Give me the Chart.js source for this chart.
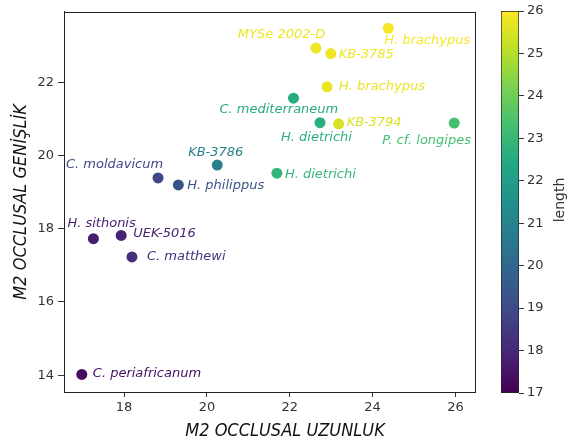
<!DOCTYPE html>
<html>
<head>
<meta charset="utf-8">
<script src="https://cdn.jsdelivr.net/npm/chart.js@4/dist/chart.umd.min.js"></script>
<style>
html,body{margin:0;padding:0;background:#fff;width:571px;height:443px;overflow:hidden;}
#main{position:absolute;left:0;top:0;}
#cbar{position:absolute;left:480px;top:0;}
</style>
</head>
<body>
<canvas id="main" width="480" height="443"></canvas>
<canvas id="cbar" width="91" height="443"></canvas>
<script>
// ---- data ----
const names = ["H. brachypus","MYSe 2002-D","KB-3785","H. brachypus","C. mediterraneum","H. dietrichi","KB-3794","P. cf. longipes","KB-3786","C. moldavicum","H. philippus","H. dietrichi","H. sithonis","UEK-5016","C. matthewi","C. periafricanum"];
const occlusalLength = [24.38,22.63,22.99,22.90,22.09,22.73,23.18,25.97,20.25,18.82,19.31,21.69,17.26,17.93,18.19,16.98];
const occlusalWidth  = [23.48,22.94,22.79,21.88,21.57,20.90,20.87,20.89,19.74,19.39,19.20,19.52,17.73,17.82,17.23,14.02];
const lengthColor    = [25.9,25.8,25.8,25.7,22.5,22.6,25.5,23.3,20.9,18.9,19.3,22.9,17.7,17.9,18.2,17.3];
const xTicks = [18,20,22,24,26];
const yTicks = [14,16,18,20,22];
const cbarTicks = [17,18,19,20,21,22,23,24,25,26];
const xTitle = 'M2 OCCLUSAL UZUNLUK';
const yTitle = 'M2 OCCLUSAL GENİŞLİK';
const cbarTitle = 'length';

// ---- label placement (pixel offsets from the point: left edge, vertical middle) ----
const labelOffsets = [[-4,12],[-78,-13],[8,1],[12,0],[-74,11],[-39,15],[8,-1],[-72,18],[-29,-12],[-92,-13],[9,1],[8,1],[-26,-15],[12,-2],[15,0],[11,-1]];

const cMin = 17, cMax = 26;
const viridisStops = ["#440154","#482475","#414487","#355f8d","#2a788e","#21918c","#22a884","#44bf70","#7ad151","#bddf26","#fde725"];
function hex2rgb(h){return [parseInt(h.slice(1,3),16),parseInt(h.slice(3,5),16),parseInt(h.slice(5,7),16)];}
function viridis(t){
  t=Math.max(0,Math.min(1,t));
  const p=t*(viridisStops.length-1);const i=Math.min(Math.floor(p),viridisStops.length-2);const f=p-i;
  const a=hex2rgb(viridisStops[i]),b=hex2rgb(viridisStops[i+1]);
  return 'rgb('+a.map((v,k)=>Math.round(v+(b[k]-v)*f)).join(',')+')';
}
const pointColors = lengthColor.map(v=>viridis((v-cMin)/(cMax-cMin)));

const labelFont = 'italic 13px "DejaVu Sans"';
const titleFont = {family:'"DejaVu Sans Condensed","DejaVu Sans"', size:18, style:'italic'};
const tickFont = {family:'"DejaVu Sans"', size:13};

const labelPlugin = {
  id:'labels',
  afterDatasetsDraw(chart){
    const ctx=chart.ctx; const meta=chart.getDatasetMeta(0);
    ctx.save(); ctx.font=labelFont; ctx.textBaseline='middle'; ctx.textAlign='left';
    meta.data.forEach((pt,i)=>{
      ctx.fillStyle=pointColors[i];
      ctx.fillText(names[i], pt.x+labelOffsets[i][0], pt.y+labelOffsets[i][1]);
    });
    ctx.restore();
  },
  afterDraw(chart){
    const a=chart.chartArea, ctx=chart.ctx;
    ctx.save(); ctx.strokeStyle='#222'; ctx.lineWidth=1;
    ctx.strokeRect(Math.round(a.left)+0.5, Math.round(a.top)+0.5, Math.round(a.right-a.left), Math.round(a.bottom-a.top));
    ctx.font='italic 18px "DejaVu Sans Condensed","DejaVu Sans"';
    ctx.fillStyle='#111'; ctx.textAlign='center'; ctx.textBaseline='middle';
    ctx.fillText(xTitle, 285, 431);
    ctx.restore();
  }
};

new Chart(document.getElementById('main'),{
  type:'scatter',
  data:{datasets:[{
    data: occlusalLength.map((x,i)=>({x:x,y:occlusalWidth[i]})),
    pointBackgroundColor: pointColors,
    pointBorderWidth:0,
    pointRadius:5.5
  }]},
  options:{
    responsive:false, devicePixelRatio:1, animation:false,
    layout:{padding:{top:11,right:5,left:0,bottom:0}},
    plugins:{legend:{display:false},tooltip:{enabled:false}},
    scales:{
      x:{type:'linear',min:16.55,max:26.46,
        afterBuildTicks:s=>{s.ticks=xTicks.map(v=>({value:v}));},
        afterFit:s=>{s.height=51;},
        ticks:{font:tickFont,color:'#333',padding:3},
        grid:{drawOnChartArea:false,tickLength:5,color:'#333'},
        border:{color:'#222'}
      },
      y:{type:'linear',min:13.54,max:23.93,
        afterBuildTicks:s=>{s.ticks=yTicks.map(v=>({value:v}));},
        afterFit:s=>{s.width=64;},
        ticks:{font:tickFont,color:'#333',padding:4},
        grid:{drawOnChartArea:false,tickLength:6,color:'#333'},
        border:{color:'#222'},
        title:{display:true,text:yTitle,font:titleFont,color:'#111',padding:{top:11,bottom:0}}
      }
    }
  },
  plugins:[labelPlugin]
});

const cbarTitlePlugin = {
  id:'cbarTitle',
  afterDraw(chart){
    const ctx=chart.ctx;
    ctx.save(); ctx.translate(80,200); ctx.rotate(-Math.PI/2);
    ctx.font='14px "DejaVu Sans"'; ctx.fillStyle='#333'; ctx.textAlign='center'; ctx.textBaseline='middle';
    ctx.fillText(cbarTitle,0,0); ctx.restore();
  }
};

new Chart(document.getElementById('cbar'),{
  type:'bar',
  data:{labels:[''],datasets:[{
    data:[[cMin,cMax]],
    backgroundColor:(c)=>{
      const ca=c.chart.chartArea; if(!ca) return '#888';
      const g=c.chart.ctx.createLinearGradient(0,ca.bottom,0,ca.top);
      viridisStops.forEach((s,i)=>g.addColorStop(i/(viridisStops.length-1),s));
      return g;
    },
    borderColor:'#222',borderWidth:1,borderSkipped:false,
    barPercentage:1,categoryPercentage:1
  }]},
  options:{
    responsive:false, devicePixelRatio:1, animation:false,
    layout:{padding:{top:11,right:20,left:21,bottom:50}},
    plugins:{legend:{display:false},tooltip:{enabled:false}},
    scales:{
      x:{display:false},
      y:{position:'right',min:cMin,max:cMax,
        afterBuildTicks:s=>{s.ticks=cbarTicks.map(v=>({value:v}));},
        afterFit:s=>{s.width=32;},
        ticks:{font:tickFont,color:'#333',padding:3},
        grid:{drawOnChartArea:false,tickLength:5,color:'#333'},
        border:{display:false}
      }
    }
  },
  plugins:[cbarTitlePlugin]
});
</script>
</body>
</html>
